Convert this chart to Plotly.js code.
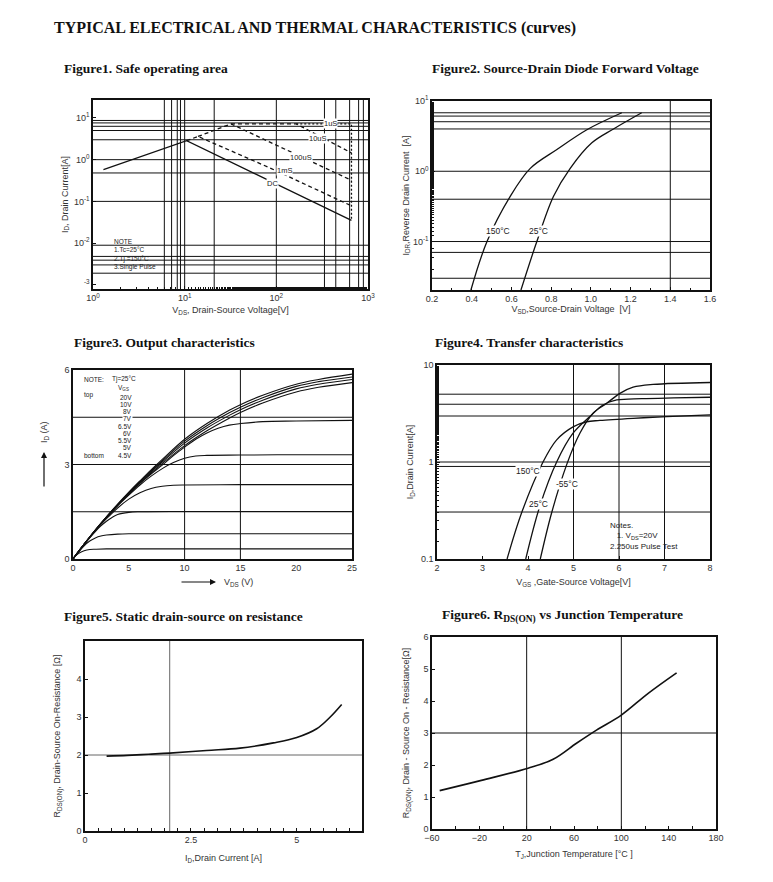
<!DOCTYPE html>
<html><head><meta charset="utf-8">
<script src="https://cdn.plot.ly/plotly-3.0.1.min.js"></script>
<style>html,body{margin:0;padding:0;background:#fff}#chart{width:773px;height:882px}</style>
</head><body><div id="chart"></div>
<script>
// ---------- DATA ----------
// Figure 1: Safe operating area (log-log)
const soaDC_x = [1.3, 10.5, 660];
const soaDC_y = [0.58, 2.85, 0.035];
const soa1ms_x = [10.5, 14, 87, 660];
const soa1ms_y = [2.85, 3.6, 0.62, 0.078];
const soa100us_x = [14, 32, 660];
const soa100us_y = [3.6, 7.2, 0.32];
const soa10us_x = [32, 165, 660];
const soa10us_y = [7.2, 7.2, 1.45];
const soa1us_x = [165, 660, 660];
const soa1us_y = [7.2, 7.2, 0.035];
const soaLabels = ['1uS', '10uS', '100uS', '1mS', 'DC'];
const soaLabel_x = [389, 282, 186, 123, 91];
const soaLabel_y = [7.2, 3.2, 1.1, 0.55, 0.27];
const soaGridX = [6, 7.2, 8.3, 9, 10, 21, 100, 335, 445, 630, 790, 890];
const soaGridY = [8.7, 7.6, 6.3, 5, 3, 1, 0.48, 0.1, 0.0089, 0.0048, 0.0039, 0.003, 0.0019];

// Figure 2: Source-drain diode forward voltage
const diode150_x = [0.396, 0.477, 0.594, 0.695, 0.829, 0.98, 1.156];
const diode150_y = [0.0204, 0.1, 0.44, 1.1, 2.04, 3.9, 6.8];
const diode25_x = [0.648, 0.728, 0.812, 0.896, 1.005, 1.114, 1.256];
const diode25_y = [0.0204, 0.1, 0.44, 1.1, 2.54, 4.0, 6.8];
const diodeGridX = [1.4];
const diodeGridY = [6.8, 6.1, 5.07, 4.0, 1, 0.40, 0.1, 0.070, 0.030];

// Figure 3: Output characteristics
const outX = [0,1,2,3,4,5,6,7,8,10,12,14,15,17,20,22,25];
const out20V = [0,0.47,0.92,1.34,1.74,2.12,2.48,2.83,3.16,3.8,4.3,4.72,4.9,5.2,5.55,5.7,5.87];
const out10V = [0,0.47,0.92,1.34,1.73,2.1,2.46,2.8,3.12,3.74,4.23,4.64,4.82,5.12,5.48,5.63,5.78];
const out8V  = [0,0.47,0.92,1.33,1.72,2.09,2.44,2.77,3.08,3.68,4.16,4.56,4.74,5.04,5.4,5.55,5.7];
const out7V  = [0,0.47,0.91,1.32,1.71,2.07,2.41,2.73,3.03,3.6,4.07,4.47,4.65,4.95,5.3,5.45,5.6];
const out65V_x = [0,1,2,3,4,5,6,7,8,9,10,11,12,13,14,15,17,20,25];
const out65V_y = [0,0.47,0.91,1.32,1.7,2.06,2.4,2.7,2.98,3.28,3.55,3.8,4.0,4.15,4.25,4.3,4.36,4.38,4.4];
const out6V_x = [0,1,2,3,4,5,6,7,8,9,10,11,12,15,20,25];
const out6V_y = [0,0.47,0.91,1.31,1.69,2.03,2.35,2.63,2.87,3.06,3.2,3.27,3.29,3.3,3.31,3.31];
const out55V_x = [0,1,2,3,4,5,6,7,8,9,10,15,20,25];
const out55V_y = [0,0.46,0.9,1.28,1.62,1.9,2.1,2.24,2.31,2.34,2.35,2.36,2.36,2.36];
const out5V_x = [0,0.5,1,1.5,2,2.5,3,3.5,4,5,6,10,25];
const out5V_y = [0,0.24,0.46,0.67,0.87,1.05,1.2,1.32,1.41,1.48,1.5,1.51,1.51];
const out45V_x = [0,0.5,1,1.5,2,2.5,3,4,5,25];
const out45V_y = [0,0.22,0.42,0.57,0.67,0.73,0.76,0.79,0.8,0.8];
const out4V_x = [0,0.3,0.6,1,1.5,2,3,25];
const out4V_y = [0,0.12,0.2,0.26,0.3,0.31,0.32,0.32];
const outLegendVgs = ['20V','10V','8V','7V','6.5V','6V','5.5V','5V','4.5V'];
const outGridX = [10, 15];
const outGridY = [1.5, 3, 4.5];

// Figure 4: Transfer characteristics
const tr150_x = [3.54, 3.86, 4.33, 4.63, 4.99, 5.29, 5.58, 6.31, 7.05, 8.0];
const tr150_y = [0.1, 0.30, 1.0, 1.69, 2.3, 2.6, 2.68, 2.82, 2.94, 3.06];
const tr25_x = [3.95, 4.26, 4.63, 4.99, 5.36, 5.65, 5.95, 6.5, 7.2, 8.0];
const tr25_y = [0.1, 0.35, 1.0, 1.98, 2.94, 3.87, 4.36, 4.5, 4.58, 4.65];
const trm55_x = [4.27, 4.52, 4.85, 5.14, 5.43, 5.73, 6.02, 6.31, 6.75, 8.0];
const trm55_y = [0.1, 0.30, 0.94, 1.98, 3.18, 4.03, 5.1, 5.9, 6.3, 6.6];
const trLabels = ['150°C', '25°C', '-55°C'];
const trLabel_x = [4.0, 4.22, 4.85];
const trLabel_y = [0.8, 0.37, 0.59];
const trGridX = [5, 6, 7];
const trGridY = [5.0, 3.94, 2.98, 1.0, 0.9, 0.305];

// Figure 5: Static drain-source on resistance
const ronId = [0.51, 1.0, 1.5, 2.0, 2.87, 3.66, 4.45, 5.0, 5.47, 5.79, 6.06];
const ronR  = [1.97, 1.99, 2.02, 2.05, 2.12, 2.18, 2.32, 2.46, 2.69, 3.0, 3.33];
const ronGridX = [2.0];
const ronGridY = [2];

// Figure 6: RDS(on) vs junction temperature
const tjT = [-53.5, -18.3, 21.2, 42.4, 62.1, 79, 100, 122.7, 146.7];
const tjR = [1.2, 1.52, 1.9, 2.18, 2.68, 3.09, 3.56, 4.24, 4.88];
const tjTicks = [-60, -20, 20, 60, 100, 140, 180];
const tjGridX = [20, 100];
const tjGridY = [3];

// ---------- LAYOUT ----------
const W = 773, H = 882;
const SANS = 'Liberation Sans, Arial, sans-serif';
const SERIF = 'Liberation Serif, Times New Roman, serif';
function xd(a, b) { return [a / W, b / W]; }
function yd(top, bot) { return [1 - bot / H, 1 - top / H]; }
function px(v) { return v / W; }
function py(v) { return 1 - v / H; }

function axis(domain, extra) {
  return Object.assign({
    domain: domain, showline: true, mirror: true, linecolor: '#111', linewidth: 1.6,
    ticks: 'inside', ticklen: 3, tickcolor: '#111', tickwidth: 1,
    tickfont: {family: SANS, size: 9, color: '#333'},
    showgrid: false, zeroline: false, fixedrange: true,
    title: {font: {family: SANS, size: 9, color: '#333'}}
  }, extra);
}

const line = {color: '#111', width: 1.3};
const traces = [];
function tr(x, y, xa, ya, style) {
  traces.push({x: x, y: y, xaxis: xa, yaxis: ya, mode: 'lines', type: 'scatter',
    hoverinfo: 'skip', showlegend: false, line: Object.assign({}, line, style || {})});
}
// Fig1
tr(soaDC_x, soaDC_y, 'x', 'y');
tr(soa1ms_x, soa1ms_y, 'x', 'y', {dash: '4px,3px'});
tr(soa100us_x, soa100us_y, 'x', 'y', {dash: '4px,3px'});
tr(soa10us_x, soa10us_y, 'x', 'y', {dash: '4px,3px'});
tr(soa1us_x, soa1us_y, 'x', 'y', {dash: '2px,2px'});
// Fig2
tr(diode150_x, diode150_y, 'x2', 'y2', {shape: 'spline'});
tr(diode25_x, diode25_y, 'x2', 'y2', {shape: 'spline'});
// Fig3
[out20V, out10V, out8V, out7V].forEach(function (yy) { tr(outX, yy, 'x3', 'y3', {shape: 'spline', width: 1.1}); });
tr(out65V_x, out65V_y, 'x3', 'y3', {shape: 'spline', width: 1.1});
tr(out6V_x, out6V_y, 'x3', 'y3', {shape: 'spline', width: 1.1});
tr(out55V_x, out55V_y, 'x3', 'y3', {shape: 'spline', width: 1.1});
tr(out5V_x, out5V_y, 'x3', 'y3', {shape: 'spline', width: 1.1});
tr(out45V_x, out45V_y, 'x3', 'y3', {shape: 'spline', width: 1.1});
tr(out4V_x, out4V_y, 'x3', 'y3', {shape: 'spline', width: 1.1});
// Fig4
tr(tr150_x, tr150_y, 'x4', 'y4', {shape: 'spline'});
tr(tr25_x, tr25_y, 'x4', 'y4', {shape: 'spline'});
tr(trm55_x, trm55_y, 'x4', 'y4', {shape: 'spline'});
// Fig5
tr(ronId, ronR, 'x5', 'y5', {shape: 'spline', width: 1.6});
// Fig6
tr(tjT, tjR, 'x6', 'y6', {shape: 'spline', width: 1.6});

// grid lines
const shapes = [];
function grid(xs, ys, xa, ya, color) {
  const c = color || '#111';
  xs.forEach(function (v) { shapes.push({type: 'line', xref: xa, yref: ya + ' domain', x0: v, x1: v, y0: 0, y1: 1, line: {color: c, width: 1}, layer: 'below'}); });
  ys.forEach(function (v) { shapes.push({type: 'line', xref: xa + ' domain', yref: ya, x0: 0, x1: 1, y0: v, y1: v, line: {color: c, width: 1}, layer: 'below'}); });
}
grid(soaGridX, soaGridY, 'x', 'y');
grid(diodeGridX, diodeGridY, 'x2', 'y2');
grid(outGridX, outGridY, 'x3', 'y3');
grid(trGridX, trGridY, 'x4', 'y4');
grid(ronGridX, ronGridY, 'x5', 'y5', '#666');
grid(tjGridX, tjGridY, 'x6', 'y6');

const ann = [];
function paperText(text, x, y, opts) {
  ann.push(Object.assign({text: text, xref: 'paper', yref: 'paper', x: px(x), y: py(y), showarrow: false,
    xanchor: 'left', yanchor: 'middle', font: {family: SANS, size: 9, color: '#222'}}, opts || {}));
}
const titleFont = {family: SERIF, size: 13.5, color: '#111', weight: 'bold'};
paperText('TYPICAL ELECTRICAL AND THERMAL CHARACTERISTICS (curves)', 52, 28, {font: {family: SERIF, size: 16, color: '#111', weight: 'bold'}});
paperText('Figure1. Safe operating area', 62, 69, {font: titleFont});
paperText('Figure2. Source-Drain Diode Forward Voltage', 430, 69, {font: titleFont});
paperText('Figure3. Output characteristics', 72, 343, {font: titleFont});
paperText('Figure4. Transfer characteristics', 433, 343, {font: titleFont});
paperText('Figure5. Static drain-source on resistance', 62, 616, {font: titleFont});
paperText('Figure6. R<sub>DS(ON)</sub> vs Junction Temperature', 440, 616, {font: titleFont});

// Fig1 labels (log axes: annotation coords in log10)
soaLabels.forEach(function (t, i) {
  ann.push({text: t, xref: 'x', yref: 'y', x: Math.log10(soaLabel_x[i]), y: Math.log10(soaLabel_y[i]), showarrow: false,
    font: {family: SANS, size: 7.5, color: '#222'}, bgcolor: '#fff', borderpad: 0});
});
paperText('NOTE<br>1.Tc=25°C<br>2.Tj =150°C<br>3.Single Pulse', 112, 254, {font: {family: SANS, size: 6.5, color: '#222'}, align: 'left'});

// Fig2 labels
ann.push({text: '150°C', xref: 'x2', yref: 'y2', x: 0.53, y: Math.log10(0.139), showarrow: false, font: {family: SANS, size: 8.5, color: '#222'}, bgcolor: '#fff', borderpad: 0});
ann.push({text: '25°C', xref: 'x2', yref: 'y2', x: 0.737, y: Math.log10(0.139), showarrow: false, font: {family: SANS, size: 8.5, color: '#222'}, bgcolor: '#fff', borderpad: 0});

// Fig3 legend text
const smallF = {family: SANS, size: 6.5, color: '#222'};
paperText('NOTE:', 82, 379, {font: smallF});
paperText('Tj=25°C', 110, 379, {font: smallF});
paperText('V<sub>GS</sub>', 131, 388, {font: smallF, xanchor: 'right'});
outLegendVgs.forEach(function (t, i) {
  paperText(t, 133, 397 + i * 7.25, {font: smallF, xanchor: 'right', bgcolor: '#fff', borderpad: 0});
});
paperText('top', 82, 395, {font: smallF});
paperText('bottom', 82, 455, {font: smallF});
// Fig3 axis titles with arrows
paperText('V<sub>DS</sub> (V)', 222, 582, {font: {family: SANS, size: 9, color: '#333'}});
ann.push({text: '', xref: 'paper', yref: 'paper', x: px(216), y: py(582), ax: -36, ay: 0, showarrow: true, arrowhead: 2, arrowsize: 1, arrowwidth: 1.2, arrowcolor: '#111'});
paperText('I<sub>D</sub> (A)', 44, 432, {font: {family: SANS, size: 9, color: '#333'}, textangle: -90, xanchor: 'center'});
ann.push({text: '', xref: 'paper', yref: 'paper', x: px(44), y: py(452), ax: 0, ay: 36, showarrow: true, arrowhead: 2, arrowsize: 1, arrowwidth: 1.2, arrowcolor: '#111'});

// Fig4 labels
trLabels.forEach(function (t, i) {
  ann.push({text: t, xref: 'x4', yref: 'y4', x: trLabel_x[i], y: Math.log10(trLabel_y[i]), showarrow: false,
    font: {family: SANS, size: 8.5, color: '#222'}, bgcolor: '#fff', borderpad: 0});
});
paperText('Notes.<br>   1. V<sub>DS</sub>=20V<br>2.250us Pulse Test', 608, 536, {font: {family: SANS, size: 8, color: '#222'}, align: 'left'});

const layout = {
  width: W, height: H, margin: {l: 0, r: 0, t: 0, b: 0},
  paper_bgcolor: '#fff', plot_bgcolor: '#fff', showlegend: false,
  xaxis: axis(xd(93, 368), {type: 'log', range: [0, 3], tickmode: 'array', tickvals: [1, 10, 100, 1000],
    ticktext: ['10<sup>0</sup>', '10<sup>1</sup>', '10<sup>2</sup>', '10<sup>3</sup>'], anchor: 'y',
    minor: {ticks: 'inside', ticklen: 2, tickcolor: '#111'},
    title: {text: 'V<sub>DS</sub>, Drain-Source Voltage[V]', standoff: 4, font: {family: SANS, size: 9, color: '#333'}}}),
  yaxis: axis(yd(100, 289), {type: 'log', range: [-3.1, 1.43], tickmode: 'array', tickvals: [0.001, 0.01, 0.1, 1, 10],
    ticktext: ['<sup>-3</sup>', '10<sup>-2</sup>', '10<sup>-1</sup>', '10<sup>0</sup>', '10<sup>1</sup>'], anchor: 'x',
    title: {text: 'I<sub>D</sub>, Drain Current[A]', standoff: 4, font: {family: SANS, size: 9, color: '#333'}}}),
  xaxis2: axis(xd(432, 710), {range: [0.2, 1.6], dtick: 0.2, tickformat: '.1f', anchor: 'y2',
    minor: {ticks: 'inside', ticklen: 2, dtick: 0.1, tickcolor: '#111'},
    title: {text: 'V<sub>SD</sub>,Source-Drain Voltage  [V]', standoff: 2, font: {family: SANS, size: 9, color: '#333'}}}),
  yaxis2: axis(yd(101, 290), {type: 'log', range: [-1.69, 1], tickmode: 'array', tickvals: [0.1, 1, 10],
    ticktext: ['10<sup>-1</sup>', '10<sup>0</sup>', '10<sup>1</sup>'], anchor: 'x2',
    minor: {ticks: 'inside', ticklen: 2, tickcolor: '#111'},
    title: {text: 'I<sub>DR</sub>,Reverse Drain Current  [A]', standoff: 2, font: {family: SANS, size: 9, color: '#333'}}}),
  xaxis3: axis(xd(73, 352), {range: [0, 25], dtick: 5, anchor: 'y3', ticks: ''}),
  yaxis3: axis(yd(370, 559), {range: [0, 6], dtick: 3, anchor: 'x3', ticks: ''}),
  xaxis4: axis(xd(437, 710), {range: [2, 8], dtick: 1, anchor: 'y4',
    title: {text: 'V<sub>GS</sub> ,Gate-Source Voltage[V]', standoff: 6, font: {family: SANS, size: 9, color: '#333'}}}),
  yaxis4: axis(yd(365, 559), {type: 'log', range: [-1, 1], tickmode: 'array', tickvals: [0.1, 1, 10], ticktext: ['0.1', '1', '10'], anchor: 'x4',
    minor: {ticks: 'inside', ticklen: 2, tickcolor: '#111'},
    title: {text: 'I<sub>D</sub>,Drain Current[A]', standoff: 6, font: {family: SANS, size: 9, color: '#333'}}}),
  xaxis5: axis(xd(85, 362), {range: [0, 6.54], tickmode: 'array', tickvals: [0, 2.5, 5], ticktext: ['0', '2.5', '5'], anchor: 'y5',
    minor: {ticks: 'inside', ticklen: 3, dtick: 0.3125, tickcolor: '#111'},
    title: {text: 'I<sub>D</sub>,Drain Current [A]', standoff: 10, font: {family: SANS, size: 9, color: '#333'}}}),
  yaxis5: axis(yd(641, 831), {range: [0, 5], tickmode: 'array', tickvals: [0, 1, 2, 3, 4], anchor: 'x5',
    title: {text: 'R<sub>DS(ON)</sub>, Drain-Source On-Resistance [Ω]', standoff: 14, font: {family: SANS, size: 9, color: '#333'}}}),
  xaxis6: axis(xd(432, 716), {range: [-60, 180], tickmode: 'array', tickvals: tjTicks, anchor: 'y6',
    minor: {ticks: 'inside', ticklen: 3, tickmode: 'linear', tick0: -60, dtick: 20, tickcolor: '#111'},
    title: {text: 'T<sub>J</sub>,Junction Temperature [°C ]', standoff: 8, font: {family: SANS, size: 9, color: '#333'}}}),
  yaxis6: axis(yd(637, 829), {range: [0, 6], dtick: 1, anchor: 'x6',
    title: {text: 'R<sub>DS(ON)</sub>, Drain - Source On - Resistance[Ω]', standoff: 12, font: {family: SANS, size: 9, color: '#333'}}}),
  shapes: shapes,
  annotations: ann
};

Plotly.newPlot('chart', traces, layout, {staticPlot: true, displayModeBar: false});
</script>
</body></html>
